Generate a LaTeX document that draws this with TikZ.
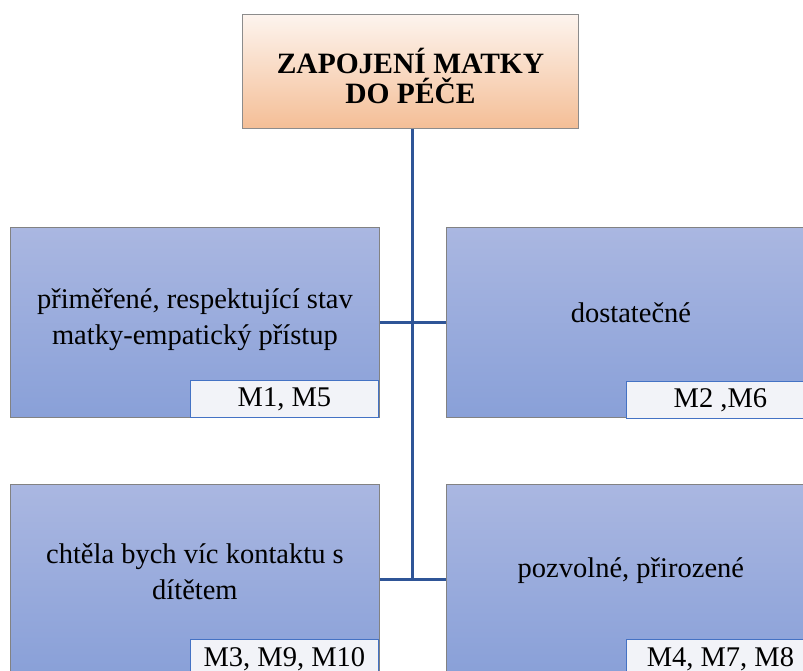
\documentclass[tikz,border=0pt]{standalone}
\usepackage{fontspec}
\setmainfont{Liberation Serif}
\usetikzlibrary{calc}
\begin{document}
\begin{tikzpicture}[x=1pt,y=-1pt,
  rootbox/.style={draw={rgb,255:red,140;green,140;blue,140}, line width=1pt,
    top color={rgb,255:red,253;green,244;blue,238},
    bottom color={rgb,255:red,244;green,190;blue,150},
    minimum width=336pt, minimum height=114pt, inner sep=0pt, anchor=north west},
  roottext/.style={align=center, inner sep=0pt,
    font=\rmfamily\fontsize{29.5}{30}\selectfont\bfseries},
  catbox/.style={draw={rgb,255:red,130;green,130;blue,130}, line width=0.8pt,
    top color={rgb,255:red,170;green,183;blue,225},
    bottom color={rgb,255:red,137;green,160;blue,216},
    minimum width=369pt, minimum height=190pt, inner sep=0pt, anchor=north west},
  cattext/.style={align=center, font=\rmfamily\fontsize{28.5}{36}\selectfont, inner sep=0pt},
  tagbox/.style={draw={rgb,255:red,68;green,114;blue,196}, line width=0.8pt,
    fill={rgb,255:red,242;green,243;blue,248},
    minimum width=188pt, minimum height=37pt, inner sep=0pt, anchor=north east,
    font=\rmfamily\fontsize{28.5}{30}\selectfont},
  conn/.style={draw={rgb,255:red,47;green,85;blue,151}, line width=2.4pt}]
  \useasboundingbox (0,0) rectangle (803,671);
  \clip (0,0) rectangle (803,671);
  \fill[white] (0,0) rectangle (803,671);

  % category boxes
  \node[catbox] (tl) at (10,227) {};
  \node[catbox] (tr) at (446,227) {};
  \node[catbox] (bl) at (10,484) {};
  \node[catbox] (br) at (446,484) {};

  % root box and connectors
  \node[rootbox] (root) at (242,14) {};
  \node[roottext] (roott) at ($(root.center)+(0,4)$) {ZAPOJENÍ MATKY\\DO PÉČE};
  \coordinate (trunk) at ($(root.south)+(2,0)$);
  \draw[conn] (trunk) -- (trunk |- bl.east);
  \draw[conn] (tl.east) -- (tr.west);
  \draw[conn] (bl.east) -- (br.west);

  % texts
  \node[cattext] (tlt) at ($(tl.center)+(0,-3)$) {přiměřené, respektující stav\\matky-empatický přístup};
  \node[cattext] (trt) at ($(tr.center)+(0,-10)$) {dostatečné};
  \node[cattext] (blt) at ($(bl.center)+(0,-8)$) {chtěla bych víc kontaktu s\\dítětem};
  \node[cattext] (brt) at ($(br.center)+(0,-9)$) {pozvolné, přirozené};

  % respondent tags
  \node[tagbox] (tlg) at ($(tl.north east)+(-1,153)$) {M1, M5};
  \node[tagbox] (trg) at ($(tr.north east)+(-1,154)$) {M2 ,M6};
  \node[tagbox, minimum height=39pt] (blg) at ($(bl.north east)+(-1,155)$) {M3, M9, M10};
  \node[tagbox, minimum height=39pt] (brg) at ($(br.north east)+(-1,155)$) {M4, M7, M8};
\end{tikzpicture}
\end{document}
